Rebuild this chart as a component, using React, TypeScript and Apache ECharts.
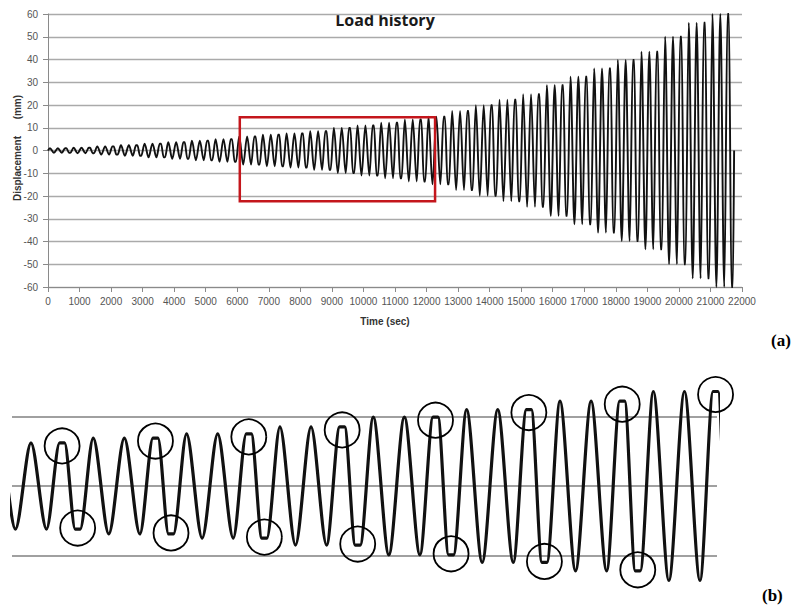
import React, { useEffect, useRef } from "react";
import * as echarts from "echarts";

// ---------- values ----------
// displacement amplitude (mm) of each loading group (3 cycles per group), panel (a)
const groupAmplitudes = [
  1.0, 1.2, 1.8, 2.3, 3.0, 3.6, 4.3, 5.0, 6.2, 6.9, 7.5, 8.5, 9.9, 11.0, 12.2,
  13.6, 14.9, 17.4, 19.9, 22.3, 24.8, 28.7, 32.4, 36.1, 39.8, 43.4, 50.0, 56.2, 60.0,
];
const cyclesPerGroup = 3;
const cyclePeriodSec = 250;
const holdSec = 40; // flat hold at peak/trough of the last cycle in each group
const endTimeSec = 21750;

const xAxisRange = [0, 22000, 1000]; // min, max, step (s)
const yAxisRange = [-60, 60, 10]; // min, max, step (mm)
const highlightBox = [6080, 12270, 14.6, -22.3]; // t start, t end, top, bottom
const zoomWindow = [6160, 11824]; // time range shown in panel (b)
const zoomRangeY = [-16, 16];
const zoomGridValues = [10, 0, -10];

const titleText = "Load history";
const xName = "Time (sec)";
const yName = "Displacement      (mm)";

// ---------- build the turning points of the load history ----------
const turningPoints: [number, number][] = [[0, 0]];
const holdPoints: [number, number][] = [];
groupAmplitudes.forEach((amp, g) => {
  for (let c = 0; c < cyclesPerGroup; c++) {
    const n = g * cyclesPerGroup + c;
    const tPeak = cyclePeriodSec * (n + 0.25);
    const tTrough = cyclePeriodSec * (n + 0.75);
    if (c === cyclesPerGroup - 1) {
      turningPoints.push(
        [tPeak - holdSec / 2, amp],
        [tPeak + holdSec / 2, amp],
        [tTrough - holdSec / 2, -amp],
        [tTrough + holdSec / 2, -amp]
      );
      holdPoints.push([tPeak, amp], [tTrough, -amp]);
    } else {
      turningPoints.push([tPeak, amp], [tTrough, -amp]);
    }
  }
});
turningPoints.push([endTimeSec, 0]);

const FONT = '"Liberation Sans", Arial, sans-serif';

export default function App() {
  const ref = useRef<HTMLDivElement>(null);

  useEffect(() => {
    if (!ref.current) return;
    const chart = echarts.init(ref.current, null, { renderer: "svg" });

    const zoomCircles = holdPoints
      .filter(([t]) => t >= zoomWindow[0] && t <= zoomWindow[1])
      .map(([t, v]) => ({
        coord: [t, v],
        symbol: "circle",
        symbolSize: 35,
        symbolOffset: [0, v > 0 ? 3 : -1],
        itemStyle: {
          color: "rgba(0,0,0,0)",
          borderColor: "#000",
          borderWidth: 1.8,
        },
      }));

    chart.setOption({
      animation: false,
      backgroundColor: "#fff",
      grid: [
        { left: 48, top: 14, width: 694, height: 273, outerBoundsMode: "none" },
        { left: 12, top: 374.8, width: 705, height: 222.4, outerBoundsMode: "none" },
      ],
      xAxis: [
        {
          type: "value",
          gridIndex: 0,
          min: xAxisRange[0],
          max: xAxisRange[1],
          interval: xAxisRange[2],
          axisLine: { show: true, onZero: false, lineStyle: { color: "#8a8a8a", width: 1 } },
          axisTick: { show: true, length: 5, lineStyle: { color: "#8a8a8a" } },
          axisLabel: {
            color: "#555",
            fontSize: 10,
            margin: 9,
            fontFamily: FONT,
            formatter: (v: number) => String(v),
          },
          splitLine: { show: false },
        },
        {
          type: "value",
          gridIndex: 1,
          min: zoomWindow[0],
          max: zoomWindow[1],
          show: false,
          splitLine: { show: false },
        },
      ],
      yAxis: [
        {
          type: "value",
          gridIndex: 0,
          min: yAxisRange[0],
          max: yAxisRange[1],
          interval: yAxisRange[2],
          axisLine: { show: true, lineStyle: { color: "#8a8a8a", width: 1 } },
          axisTick: { show: true, length: 5, lineStyle: { color: "#8a8a8a" } },
          axisLabel: {
            color: "#555",
            fontSize: 10,
            margin: 10,
            fontFamily: FONT,
            formatter: (v: number) => String(v),
          },
          splitLine: { show: true, lineStyle: { color: "#aaaaaa", width: 1.3 } },
        },
        {
          type: "value",
          gridIndex: 1,
          min: zoomRangeY[0],
          max: zoomRangeY[1],
          show: false,
          splitLine: { show: false },
        },
      ],
      series: [
        {
          type: "line",
          xAxisIndex: 0,
          yAxisIndex: 0,
          data: turningPoints,
          showSymbol: false,
          symbol: "none",
          smooth: 0.35,
          smoothMonotone: "x",
          z: 3,
          lineStyle: { color: "#111", width: 1.9 },
          markArea: {
            silent: true,
            z: 4,
            itemStyle: {
              color: "rgba(0,0,0,0)",
              borderColor: "#c4161c",
              borderWidth: 2.5,
            },
            data: [
              [
                { coord: [highlightBox[0], highlightBox[2]] },
                { coord: [highlightBox[1], highlightBox[3]] },
              ],
            ],
          },
        },
        {
          type: "line",
          xAxisIndex: 1,
          yAxisIndex: 1,
          data: turningPoints,
          showSymbol: false,
          symbol: "none",
          smooth: 0.3,
          smoothMonotone: "x",
          z: 3,
          lineStyle: { color: "#111", width: 3.2 },
          markLine: {
            silent: true,
            z: 1,
            symbol: ["none", "none"],
            label: { show: false },
            lineStyle: { color: "#a0a0a0", width: 2, type: "solid" },
            data: zoomGridValues.map((v) => ({ yAxis: v })),
          },
          markPoint: {
            silent: true,
            z: 5,
            label: { show: false },
            data: zoomCircles,
          },
        },
      ],
      graphic: [
        {
          type: "text",
          x: 385,
          y: 20,
          style: {
            text: titleText,
            font: 'bold 16px "Open Sans", sans-serif',
            fill: "#1a1a1a",
            align: "center",
            verticalAlign: "middle",
          },
        },
        {
          type: "text",
          x: 385,
          y: 321,
          style: {
            text: xName,
            font: `bold 10px ${FONT}`,
            fill: "#333",
            align: "center",
            verticalAlign: "middle",
          },
        },
        {
          type: "text",
          x: 17,
          y: 148,
          rotation: Math.PI / 2,
          style: {
            text: yName,
            font: `bold 10px ${FONT}`,
            fill: "#333",
            align: "center",
            verticalAlign: "middle",
          },
        },
        {
          type: "text",
          x: 771,
          y: 340,
          style: {
            text: "(a)",
            font: 'bold 17px "Liberation Serif", serif',
            fill: "#000",
            align: "left",
            verticalAlign: "middle",
          },
        },
        {
          type: "text",
          x: 762,
          y: 595,
          style: {
            text: "(b)",
            font: 'bold 17px "Liberation Serif", serif',
            fill: "#000",
            align: "left",
            verticalAlign: "middle",
          },
        },
      ],
    });

    return () => chart.dispose();
  }, []);

  return (
    <div
      ref={ref}
      style={{ position: "absolute", left: 0, top: 0, width: 795, height: 610 }}
    />
  );
}
